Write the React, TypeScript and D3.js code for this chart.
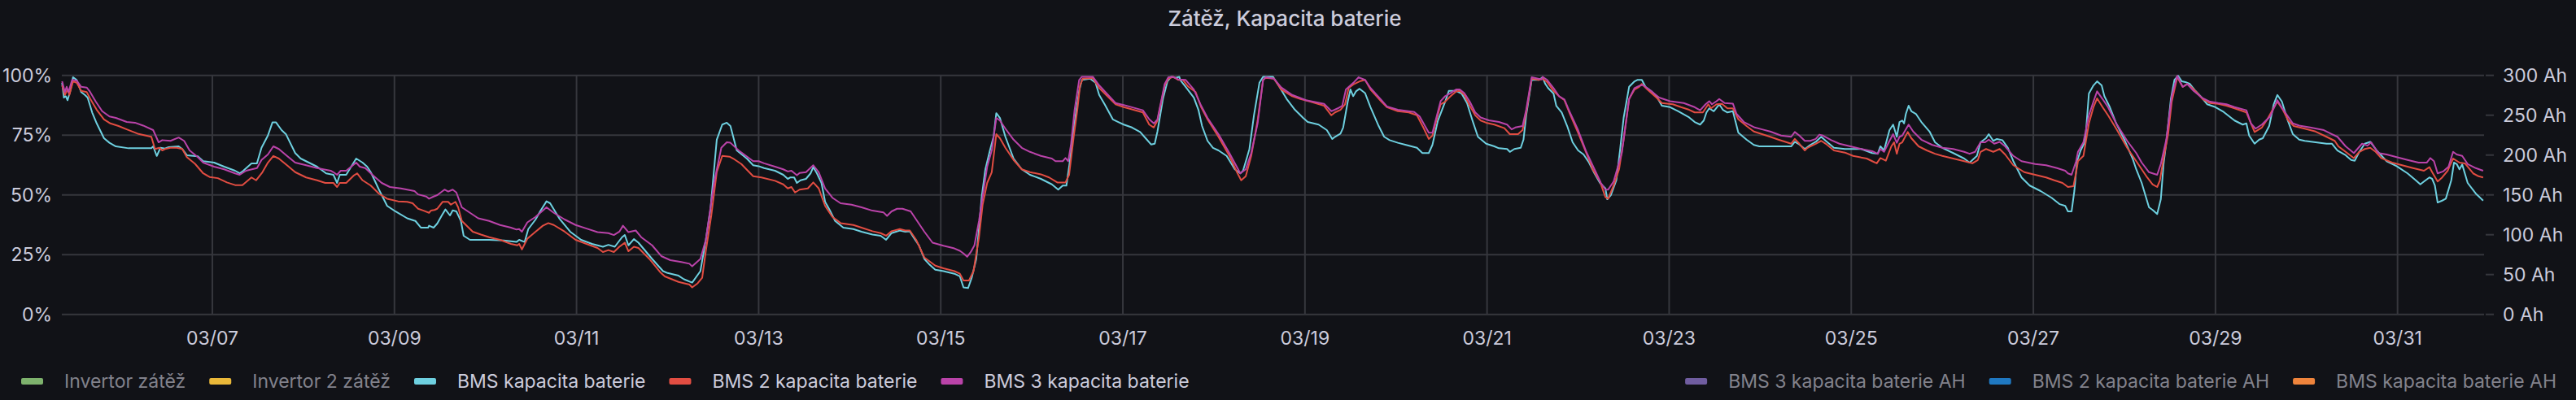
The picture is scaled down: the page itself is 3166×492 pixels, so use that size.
import React from "react";
import * as d3 from "d3";

const WIDTH = 3166;
const HEIGHT = 492;

// [day of March (fractional), capacity in %]
const bmsCapacity: [number, number][] = [
  [5.35, 96.9], [5.37, 90.7], [5.39, 91.3], [5.41, 89.6], [5.44, 93.5], [5.47, 99.2], [5.51, 98.1], [5.56, 93.0], [5.6, 91.8], [5.63, 90.7],
  [5.68, 84.5], [5.73, 79.9], [5.81, 73.7], [5.87, 71.8], [5.94, 70.3], [6.08, 69.5], [6.33, 69.5], [6.35, 70.3], [6.39, 66.3], [6.43, 69.7],
  [6.48, 69.4], [6.52, 70.0], [6.63, 70.3], [6.67, 69.2], [6.72, 66.6], [6.84, 66.1], [6.9, 64.1], [7.02, 63.5], [7.13, 61.8], [7.25, 60.1],
  [7.3, 59.0], [7.34, 60.1], [7.43, 63.2], [7.49, 63.2], [7.54, 69.7], [7.61, 74.8], [7.66, 80.3], [7.7, 80.3], [7.76, 77.1], [7.81, 75.3],
  [7.91, 67.5], [7.97, 65.2], [8.06, 63.5], [8.15, 61.8], [8.25, 59.0], [8.33, 58.4], [8.37, 55.0], [8.4, 58.4], [8.47, 58.4], [8.58, 65.2],
  [8.65, 63.5], [8.7, 61.8], [8.74, 59.5], [8.83, 52.2], [8.92, 45.4], [9.01, 43.1], [9.14, 40.2],
  [9.23, 39.1], [9.29, 36.3], [9.37, 36.3], [9.38, 37.1], [9.43, 36.3], [9.47, 38.0], [9.52, 41.4], [9.56, 43.9], [9.61, 41.4], [9.64, 43.5],
  [9.68, 43.1], [9.73, 39.1], [9.76, 32.9], [9.83, 31.2], [10.04, 31.2], [10.2, 30.9], [10.34, 30.3], [10.37, 31.2], [10.43, 30.3], [10.47, 35.7],
  [10.55, 39.7], [10.6, 43.1], [10.67, 47.3], [10.71, 46.5], [10.81, 40.2], [10.93, 34.6], [11.05, 31.2], [11.17, 29.5], [11.29, 28.3], [11.35, 29.1],
  [11.42, 28.3], [11.5, 32.3], [11.53, 33.2], [11.57, 28.9], [11.63, 31.5], [11.68, 30.0], [11.83, 23.2], [11.95, 18.1], [12.0, 17.3], [12.12, 16.2],
  [12.18, 14.7], [12.27, 13.3], [12.36, 18.1], [12.42, 31.2], [12.47, 43.7], [12.54, 73.1], [12.6, 79.4], [12.65, 80.2], [12.69, 78.8], [12.76, 68.6],
  [12.87, 65.2], [12.94, 62.4],
  [13.0, 62.0], [13.06, 61.2], [13.18, 60.1], [13.27, 58.4], [13.32, 56.7], [13.35, 57.3], [13.39, 57.3], [13.42, 55.0], [13.46, 56.1], [13.52, 56.7],
  [13.57, 59.0], [13.6, 61.6], [13.64, 59.0], [13.69, 55.0], [13.73, 47.1], [13.78, 43.7], [13.84, 39.1], [13.93, 36.3], [14.04, 35.7], [14.13, 34.6],
  [14.25, 33.4], [14.34, 32.9], [14.4, 31.2], [14.46, 34.0], [14.55, 35.1], [14.61, 34.6], [14.66, 34.8], [14.7, 32.3], [14.76, 28.9], [14.82, 23.2],
  [14.88, 20.7], [14.94, 18.7], [15.03, 18.1], [15.15, 17.0], [15.21, 15.9], [15.25, 11.3], [15.3, 11.0], [15.34, 15.3], [15.39, 23.2], [15.45, 49.3],
  [15.49, 60.7], [15.54, 68.6], [15.58, 74.3], [15.61, 84.2], [15.65, 82.2], [15.71, 74.3], [15.8, 65.2], [15.89, 60.7], [15.98, 58.4], [16.1, 56.7],
  [16.22, 54.4], [16.29, 52.2], [16.34, 53.9], [16.38, 53.9], [16.41, 61.8], [16.46, 77.7], [16.52, 93.5], [16.55, 98.1], [16.58, 98.3], [16.64, 98.6],
  [16.7, 96.9], [16.74, 91.8],
  [16.8, 87.9], [16.89, 81.6], [16.95, 80.5], [17.01, 79.4], [17.1, 78.2], [17.19, 76.3], [17.25, 73.7], [17.31, 71.1], [17.35, 71.4], [17.38, 76.5],
  [17.44, 90.1], [17.49, 97.5], [17.53, 99.4], [17.58, 99.0], [17.62, 99.4], [17.63, 98.1], [17.69, 95.2], [17.78, 90.7], [17.83, 85.6], [17.87, 78.8],
  [17.93, 72.6], [17.99, 69.7], [18.05, 68.6], [18.14, 66.3], [18.23, 60.7], [18.29, 59.0], [18.32, 60.1], [18.36, 65.2], [18.39, 69.2], [18.44, 83.3],
  [18.5, 96.9], [18.54, 99.4], [18.65, 99.4], [18.71, 95.8], [18.8, 90.1], [18.89, 85.6], [18.98, 82.2], [19.03, 80.5], [19.15, 79.4], [19.24, 77.1],
  [19.3, 73.4], [19.33, 74.3], [19.39, 75.6], [19.42, 78.2], [19.47, 89.0], [19.5, 94.1], [19.53, 91.3], [19.56, 93.3], [19.6, 94.4], [19.66, 92.6],
  [19.72, 86.7], [19.81, 78.8], [19.87, 74.3], [19.93, 72.9], [20.02, 71.8], [20.11, 70.9], [20.23, 69.7], [20.29, 67.5], [20.36, 67.5], [20.4, 70.9],
  [20.46, 81.1], [20.54, 89.0],
  [20.58, 93.5], [20.66, 93.5], [20.72, 92.4], [20.78, 88.4], [20.84, 81.1], [20.9, 74.3], [20.99, 71.4], [21.08, 70.3], [21.13, 69.5], [21.22, 69.2],
  [21.25, 68.0], [21.3, 69.2], [21.37, 69.7], [21.4, 73.1], [21.43, 83.3], [21.49, 98.1], [21.57, 98.1], [21.61, 99.2], [21.64, 96.4], [21.67, 94.7],
  [21.73, 92.4], [21.76, 87.3], [21.82, 84.5], [21.88, 78.8], [21.94, 72.0], [22.0, 68.6], [22.06, 66.9], [22.12, 63.5], [22.18, 59.0], [22.24, 55.0],
  [22.3, 52.7], [22.32, 48.2], [22.36, 49.9], [22.42, 56.1], [22.46, 68.6], [22.5, 82.2], [22.56, 95.2], [22.62, 97.5], [22.65, 98.1], [22.7, 98.1],
  [22.74, 95.2], [22.8, 93.5], [22.86, 91.3], [22.92, 87.3], [23.01, 86.7], [23.1, 85.0], [23.22, 82.4], [23.28, 80.5], [23.34, 79.4], [23.38, 81.1],
  [23.41, 84.5], [23.44, 86.2], [23.49, 85.0], [23.55, 87.9], [23.59, 85.6], [23.64, 84.5], [23.7, 85.0], [23.76, 76.0], [23.85, 73.1], [23.93, 70.9],
  [23.99, 70.3], [24.34, 70.3],
  [24.38, 72.2], [24.43, 71.1], [24.49, 69.2], [24.52, 70.0], [24.55, 70.9], [24.61, 72.2], [24.67, 74.3], [24.72, 72.6], [24.81, 69.7], [24.93, 69.2],
  [25.11, 69.2], [25.23, 67.5], [25.29, 67.2], [25.32, 70.3], [25.36, 68.6], [25.42, 77.1], [25.46, 79.4], [25.5, 74.3], [25.53, 80.5], [25.56, 81.1],
  [25.58, 79.9], [25.6, 83.9], [25.63, 87.3], [25.66, 85.0], [25.71, 83.9], [25.77, 80.5], [25.86, 76.5], [25.92, 72.0], [26.0, 69.7], [26.12, 67.5],
  [26.24, 65.2], [26.3, 63.5], [26.38, 66.3], [26.42, 72.0], [26.48, 73.7], [26.51, 75.4], [26.56, 72.6], [26.6, 73.4], [26.66, 72.9], [26.72, 69.7],
  [26.78, 64.1], [26.87, 57.3], [26.96, 53.9], [27.08, 51.6], [27.2, 48.8], [27.29, 46.1], [27.35, 45.4], [27.38, 43.1], [27.42, 43.1], [27.45, 51.6],
  [27.48, 64.1], [27.52, 68.6], [27.57, 72.6], [27.61, 92.4], [27.66, 95.8], [27.7, 97.5], [27.75, 95.8], [27.78, 91.3], [27.84, 86.7], [27.91, 79.9],
  [28.0, 73.1], [28.09, 65.2], [28.13, 60.7],
  [28.19, 55.0], [28.27, 44.8], [28.31, 43.7], [28.36, 42.0], [28.4, 48.2], [28.43, 62.9], [28.46, 72.0], [28.51, 90.1], [28.55, 98.1], [28.59, 99.8],
  [28.63, 97.5], [28.67, 97.2], [28.72, 96.4], [28.78, 93.5], [28.85, 90.7], [28.91, 87.9], [29.0, 86.7], [29.09, 84.7], [29.21, 81.1], [29.3, 79.4],
  [29.34, 79.9], [29.37, 74.8], [29.43, 71.4], [29.48, 73.1], [29.52, 73.7], [29.59, 78.8], [29.64, 87.9], [29.68, 91.8], [29.73, 89.0], [29.79, 81.6],
  [29.85, 75.4], [29.92, 73.1], [29.98, 72.6], [30.1, 72.0], [30.22, 71.4], [30.28, 71.4], [30.34, 68.6], [30.43, 66.6], [30.49, 64.6], [30.53, 64.3],
  [30.58, 68.0], [30.64, 71.4], [30.7, 72.2], [30.77, 68.6], [30.88, 64.1], [30.99, 62.0], [31.11, 59.0], [31.2, 56.1], [31.25, 54.4], [31.29, 55.6],
  [31.35, 57.3], [31.38, 56.7], [31.41, 53.9], [31.44, 46.8], [31.49, 47.6], [31.53, 48.4], [31.59, 56.1], [31.62, 63.5], [31.65, 62.9], [31.68, 60.7],
  [31.71, 62.7], [31.77, 55.0], [31.86, 50.5], [31.94, 47.6],
];

const bms2Capacity: [number, number][] = [
  [5.35, 95.8], [5.38, 91.8], [5.41, 94.1], [5.43, 91.8], [5.47, 97.5], [5.51, 96.9], [5.56, 93.5], [5.62, 93.0], [5.66, 90.1], [5.73, 85.6],
  [5.81, 81.6], [5.88, 79.9], [5.97, 78.8], [6.06, 77.4], [6.18, 75.6], [6.27, 74.8], [6.33, 74.3], [6.37, 69.2], [6.42, 69.7], [6.45, 68.6],
  [6.48, 69.2], [6.54, 69.7], [6.61, 69.7], [6.67, 69.2], [6.72, 65.8], [6.81, 63.0], [6.9, 59.0], [6.97, 57.5], [7.06, 57.0], [7.16, 55.2],
  [7.25, 54.1], [7.33, 54.1], [7.43, 57.3], [7.48, 56.1], [7.55, 59.5], [7.61, 63.5], [7.67, 66.3], [7.73, 65.2], [7.82, 62.4], [7.91, 59.5],
  [8.03, 57.3], [8.15, 56.1], [8.24, 55.0], [8.33, 55.0], [8.37, 53.3], [8.4, 55.0], [8.47, 55.0], [8.55, 58.0], [8.59, 59.0], [8.65, 56.1],
  [8.74, 53.9], [8.83, 50.5], [8.92, 48.4], [9.04, 47.3], [9.14, 47.1],
  [9.2, 46.5], [9.26, 44.2], [9.32, 43.4], [9.38, 42.5], [9.4, 43.4], [9.44, 43.7], [9.47, 44.2], [9.53, 47.1], [9.59, 47.1], [9.62, 45.9],
  [9.67, 47.1], [9.7, 44.8], [9.74, 39.1], [9.86, 34.6], [9.95, 33.4], [10.04, 32.3], [10.16, 31.2], [10.28, 29.5], [10.35, 28.9], [10.37, 29.5],
  [10.4, 27.2], [10.46, 31.7], [10.55, 34.6], [10.63, 37.1], [10.69, 38.2], [10.75, 37.4], [10.87, 34.6], [10.99, 31.2], [11.11, 29.5], [11.23, 27.8],
  [11.29, 26.1], [11.35, 26.9], [11.41, 26.1], [11.47, 28.3], [11.53, 30.0], [11.57, 26.4], [11.63, 28.3], [11.68, 27.8], [11.8, 23.2], [11.92, 17.6],
  [11.97, 15.9], [12.12, 13.6], [12.24, 12.5], [12.27, 11.3], [12.33, 13.0], [12.38, 15.3], [12.42, 26.6], [12.48, 41.4], [12.54, 59.5], [12.6, 66.3],
  [12.68, 66.0], [12.72, 65.2], [12.81, 62.9], [12.94, 57.8],
  [13.03, 57.3], [13.18, 55.9], [13.27, 54.4], [13.32, 52.7], [13.36, 53.3], [13.4, 51.0], [13.45, 52.2], [13.54, 52.7], [13.6, 55.2], [13.66, 52.7],
  [13.73, 45.4], [13.81, 40.8], [13.9, 38.2], [14.04, 37.4], [14.13, 36.3], [14.25, 34.8], [14.34, 34.0], [14.4, 32.9], [14.46, 34.8], [14.55, 35.7],
  [14.61, 35.1], [14.66, 35.1], [14.73, 31.2], [14.82, 23.8], [14.94, 20.4], [15.03, 19.3], [15.15, 18.1], [15.21, 17.0], [15.25, 14.2], [15.31, 14.2],
  [15.36, 18.1], [15.42, 32.3], [15.46, 45.9], [15.51, 55.0], [15.56, 59.5], [15.61, 75.4], [15.65, 73.7], [15.71, 69.7], [15.8, 64.6], [15.89, 60.7],
  [15.98, 59.5], [16.1, 58.6], [16.19, 57.3], [16.28, 55.2], [16.37, 55.2], [16.41, 58.4], [16.46, 74.3], [16.5, 85.6], [16.53, 95.8], [16.56, 98.6],
  [16.67, 98.9], [16.74, 94.7],
  [16.83, 91.3], [16.92, 87.9], [17.01, 86.7], [17.1, 85.8], [17.22, 84.5], [17.29, 79.4], [17.34, 78.2], [17.38, 81.1], [17.46, 95.8], [17.5, 98.6],
  [17.55, 99.4], [17.61, 98.1], [17.66, 98.1], [17.72, 95.2], [17.8, 93.0], [17.86, 86.7], [17.93, 81.6], [18.05, 74.3], [18.17, 66.3], [18.26, 59.0],
  [18.3, 56.1], [18.35, 57.8], [18.41, 66.3], [18.48, 81.1], [18.54, 98.1], [18.57, 99.0], [18.66, 98.6], [18.74, 94.1], [18.86, 91.3], [18.95, 90.1],
  [19.06, 89.0], [19.21, 87.3], [19.29, 83.3], [19.33, 84.5], [19.39, 85.6], [19.44, 87.9], [19.48, 94.7], [19.54, 96.4], [19.6, 97.5], [19.66, 98.1],
  [19.72, 94.1], [19.84, 89.0], [19.9, 86.7], [20.02, 85.0], [20.14, 84.5], [20.23, 83.3], [20.3, 78.2], [20.36, 73.4], [20.4, 74.8], [20.49, 87.9],
  [20.54, 89.0],
  [20.6, 91.3], [20.66, 93.3], [20.7, 93.5], [20.75, 91.8], [20.81, 87.3], [20.87, 83.3], [20.93, 81.1], [20.99, 80.2], [21.08, 79.4], [21.19, 77.9],
  [21.25, 75.4], [21.34, 75.4], [21.39, 77.1], [21.43, 84.5], [21.49, 98.6], [21.57, 98.1], [21.61, 98.6], [21.66, 97.2], [21.73, 93.5], [21.79, 91.3],
  [21.85, 89.6], [21.91, 83.9], [22.0, 76.0], [22.09, 67.5], [22.16, 60.7], [22.24, 55.6], [22.3, 49.1], [22.33, 48.4], [22.39, 53.9], [22.45, 60.7],
  [22.5, 73.1], [22.56, 90.1], [22.62, 94.1], [22.67, 95.2], [22.7, 96.4], [22.76, 94.1], [22.86, 90.7], [22.92, 88.4], [23.04, 87.9], [23.13, 86.7],
  [23.22, 85.6], [23.28, 84.5], [23.37, 84.5], [23.43, 87.9], [23.46, 86.2], [23.52, 87.9], [23.58, 88.1], [23.64, 86.2], [23.7, 86.2], [23.76, 81.6],
  [23.85, 78.8], [23.93, 76.5], [24.02, 75.4], [24.11, 74.3], [24.2, 73.1], [24.34, 71.4],
  [24.38, 73.4], [24.43, 71.4], [24.49, 68.6], [24.52, 69.7], [24.55, 70.3], [24.61, 71.4], [24.67, 72.6], [24.72, 71.4], [24.81, 68.6], [24.93, 67.7],
  [25.02, 66.3], [25.17, 65.2], [25.23, 64.1], [25.28, 63.2], [25.32, 65.4], [25.38, 64.3], [25.44, 70.3], [25.47, 72.0], [25.5, 67.2], [25.53, 71.4],
  [25.56, 72.0], [25.62, 76.3], [25.66, 73.7], [25.74, 70.3], [25.83, 68.6], [25.92, 67.2], [26.0, 66.3], [26.12, 65.2], [26.24, 64.1], [26.33, 63.2],
  [26.39, 64.6], [26.42, 68.0], [26.48, 69.2], [26.56, 68.0], [26.63, 69.2], [26.69, 66.9], [26.78, 62.4], [26.9, 59.5], [27.02, 58.4], [27.14, 57.3],
  [27.23, 56.1], [27.32, 55.0], [27.38, 53.3], [27.44, 53.6], [27.47, 59.5], [27.49, 64.1], [27.55, 66.3], [27.61, 79.9], [27.66, 86.7], [27.7, 90.4],
  [27.76, 86.7], [27.82, 83.3], [27.91, 77.7], [28.03, 69.7], [28.13, 64.1],
  [28.19, 60.7], [28.25, 57.3], [28.31, 54.4], [28.36, 53.3], [28.39, 56.1], [28.43, 65.2], [28.48, 75.4], [28.52, 89.0], [28.58, 99.2], [28.64, 95.2],
  [28.69, 96.4], [28.73, 95.2], [28.79, 93.0], [28.86, 90.1], [28.94, 88.4], [29.03, 88.1], [29.12, 87.3], [29.21, 86.2], [29.34, 84.5], [29.39, 79.9],
  [29.43, 76.3], [29.51, 78.2], [29.57, 81.6], [29.63, 85.8], [29.68, 89.0], [29.74, 85.6], [29.8, 81.1], [29.86, 78.8], [29.98, 77.7], [30.1, 76.5],
  [30.22, 74.3], [30.31, 72.6], [30.35, 70.3], [30.43, 68.0], [30.52, 65.4], [30.58, 68.0], [30.64, 69.2], [30.7, 69.7], [30.76, 68.0], [30.82, 65.4],
  [30.94, 63.5], [31.05, 62.4], [31.17, 61.2], [31.29, 60.1], [31.35, 61.6], [31.38, 59.5], [31.44, 55.6], [31.49, 57.3], [31.55, 60.1], [31.61, 65.2],
  [31.68, 63.5], [31.74, 63.2], [31.83, 59.0], [31.89, 57.8], [31.94, 57.3],
];

const bms3Capacity: [number, number][] = [
  [5.35, 97.5], [5.38, 93.0], [5.4, 95.2], [5.42, 93.0], [5.46, 98.1], [5.51, 97.8], [5.56, 95.2], [5.62, 94.9], [5.65, 93.5], [5.72, 89.0],
  [5.79, 85.0], [5.87, 82.8], [5.94, 82.2], [6.06, 80.5], [6.15, 80.2], [6.24, 79.0], [6.35, 77.1], [6.41, 72.0], [6.45, 72.9], [6.54, 72.6],
  [6.63, 74.0], [6.69, 72.6], [6.75, 68.6], [6.84, 65.8], [6.9, 63.5], [7.02, 61.8], [7.13, 60.7], [7.25, 59.0], [7.3, 58.4], [7.37, 60.1],
  [7.49, 61.2], [7.54, 64.6], [7.61, 66.9], [7.67, 70.3], [7.73, 69.2], [7.82, 66.3], [7.91, 63.5], [8.03, 62.4], [8.15, 61.2], [8.3, 60.1],
  [8.33, 59.5], [8.37, 58.4], [8.41, 60.1], [8.47, 60.1], [8.58, 63.5], [8.62, 61.8], [8.68, 61.2], [8.77, 58.0], [8.86, 55.0], [8.95, 53.3],
  [9.07, 52.7], [9.14, 52.2],
  [9.22, 51.6], [9.26, 50.2], [9.35, 49.3], [9.38, 48.4], [9.43, 49.3], [9.47, 49.9], [9.55, 52.2], [9.59, 51.4], [9.64, 52.2], [9.68, 51.0],
  [9.74, 44.8], [9.83, 42.5], [9.92, 40.2], [10.04, 39.1], [10.16, 37.4], [10.28, 36.3], [10.34, 35.5], [10.37, 35.7], [10.4, 34.6], [10.46, 38.5],
  [10.55, 40.8], [10.67, 44.8], [10.75, 42.5], [10.87, 39.7], [10.99, 37.4], [11.11, 35.9], [11.23, 34.4], [11.35, 34.0], [11.41, 33.2], [11.47, 34.6],
  [11.51, 37.1], [11.57, 34.4], [11.65, 35.1], [11.71, 32.3], [11.83, 28.9], [11.93, 24.4], [12.03, 22.7], [12.15, 21.9], [12.24, 21.2], [12.27, 20.1],
  [12.36, 23.2], [12.42, 31.2], [12.51, 55.0], [12.59, 69.7], [12.65, 72.0], [12.69, 71.8], [12.78, 68.6], [12.94, 64.1],
  [13.0, 64.1], [13.06, 63.2], [13.18, 61.8], [13.27, 60.7], [13.32, 59.8], [13.36, 60.1], [13.42, 58.2], [13.45, 59.2], [13.52, 59.5], [13.6, 62.4],
  [13.66, 59.5], [13.73, 52.7], [13.81, 48.8], [13.9, 46.5], [14.02, 45.9], [14.13, 44.8], [14.25, 43.4], [14.37, 42.7], [14.41, 41.2], [14.46, 43.1],
  [14.52, 44.2], [14.58, 44.2], [14.67, 43.1], [14.73, 39.7], [14.82, 34.6], [14.91, 30.0], [15.03, 28.7], [15.15, 27.6], [15.21, 26.6], [15.25, 25.5],
  [15.29, 24.1], [15.33, 26.1], [15.37, 28.9], [15.42, 39.1], [15.46, 49.3], [15.51, 61.8], [15.56, 68.6], [15.61, 82.2], [15.65, 81.1], [15.71, 77.7],
  [15.8, 73.1], [15.89, 69.7], [15.98, 68.0], [16.1, 66.3], [16.22, 65.2], [16.26, 64.1], [16.34, 64.1], [16.37, 65.4], [16.4, 64.1], [16.43, 70.9],
  [16.47, 85.6], [16.52, 98.1], [16.55, 99.4], [16.67, 99.4], [16.74, 95.8],
  [16.92, 88.4], [17.01, 87.6], [17.22, 85.4], [17.29, 81.6], [17.34, 79.9], [17.38, 81.6], [17.46, 96.4], [17.5, 99.2], [17.55, 99.4], [17.61, 98.3],
  [17.69, 98.1], [17.78, 94.1], [17.86, 87.3], [17.93, 82.2], [18.05, 75.4], [18.17, 67.5], [18.29, 59.0], [18.35, 60.7], [18.41, 67.5], [18.48, 79.9],
  [18.54, 98.1], [18.57, 99.2], [18.66, 98.6], [18.74, 94.9], [18.86, 91.8], [19.01, 89.6], [19.21, 88.1], [19.29, 85.0], [19.36, 86.2], [19.41, 87.3],
  [19.45, 94.1], [19.54, 97.2], [19.59, 99.2], [19.66, 98.1], [19.72, 94.7], [19.84, 89.6], [19.9, 87.0], [20.02, 85.6], [20.2, 84.7], [20.26, 82.8],
  [20.36, 76.0], [20.4, 76.0], [20.49, 89.2], [20.54, 91.3],
  [20.6, 92.6], [20.66, 94.1], [20.7, 94.1], [20.75, 92.6], [20.81, 89.0], [20.87, 84.5], [20.93, 82.4], [21.02, 81.2], [21.13, 80.5], [21.22, 79.4],
  [21.27, 77.4], [21.31, 78.2], [21.39, 78.8], [21.43, 85.6], [21.49, 99.2], [21.6, 98.3], [21.61, 99.4], [21.66, 98.1], [21.73, 94.7], [21.79, 91.3],
  [21.85, 89.9], [21.91, 84.5], [22.0, 77.1], [22.09, 68.0], [22.18, 60.7], [22.25, 55.0], [22.3, 52.2], [22.33, 52.2], [22.39, 55.6], [22.48, 67.5],
  [22.56, 90.1], [22.62, 94.7], [22.67, 95.6], [22.71, 96.0], [22.8, 93.5], [22.89, 90.7], [23.01, 89.2], [23.16, 88.4], [23.28, 86.7], [23.34, 85.4],
  [23.4, 87.9], [23.44, 89.2], [23.47, 87.9], [23.52, 89.2], [23.55, 90.1], [23.61, 88.4], [23.7, 88.2], [23.74, 83.9], [23.82, 80.5], [23.94, 78.2],
  [24.02, 77.4], [24.11, 76.5], [24.23, 74.8], [24.34, 74.3],
  [24.38, 76.3], [24.43, 74.8], [24.49, 72.6], [24.55, 72.6], [24.61, 73.4], [24.65, 75.2], [24.69, 74.8], [24.78, 72.9], [24.87, 71.4], [24.99, 70.3],
  [25.11, 69.2], [25.23, 68.3], [25.29, 67.2], [25.32, 69.2], [25.36, 68.0], [25.42, 72.6], [25.46, 75.4], [25.5, 71.8], [25.53, 74.3], [25.56, 74.8],
  [25.63, 79.4], [25.68, 76.5], [25.77, 73.1], [25.89, 70.9], [26.0, 69.7], [26.12, 69.2], [26.24, 68.0], [26.3, 67.2], [26.36, 68.0], [26.42, 72.0],
  [26.47, 72.0], [26.51, 73.1], [26.57, 71.4], [26.63, 72.2], [26.69, 70.3], [26.78, 66.3], [26.87, 64.1], [27.02, 62.9], [27.14, 62.4], [27.26, 61.2],
  [27.35, 60.1], [27.38, 59.0], [27.42, 58.4], [27.47, 64.1], [27.49, 68.0], [27.55, 72.0], [27.61, 83.3], [27.66, 89.0], [27.7, 93.3], [27.76, 90.1],
  [27.82, 86.7], [27.91, 79.9], [28.03, 72.6], [28.13, 67.5],
  [28.19, 63.5], [28.27, 59.5], [28.31, 59.0], [28.36, 58.4], [28.4, 62.9], [28.46, 73.1], [28.52, 91.3], [28.58, 99.8], [28.64, 95.2], [28.69, 96.4],
  [28.76, 93.5], [28.85, 90.7], [28.94, 89.0], [29.03, 88.4], [29.12, 87.9], [29.21, 86.7], [29.34, 85.4], [29.39, 79.9], [29.44, 77.7], [29.51, 79.4],
  [29.6, 82.8], [29.68, 89.6], [29.74, 85.8], [29.85, 79.9], [29.92, 79.0], [30.04, 78.2], [30.19, 77.1], [30.28, 75.4], [30.34, 74.3], [30.43, 70.3],
  [30.52, 67.5], [30.61, 71.4], [30.67, 70.6], [30.71, 72.0], [30.79, 67.5], [30.88, 66.9], [30.99, 65.8], [31.11, 64.6], [31.23, 63.5], [31.32, 63.5],
  [31.36, 65.4], [31.4, 64.1], [31.44, 59.0], [31.5, 59.8], [31.56, 61.8], [31.61, 68.0], [31.65, 66.9], [31.71, 66.3], [31.77, 62.9], [31.86, 61.2],
  [31.94, 60.1],
];

const percentTicks = [0, 25, 50, 75, 100];
const ahTicks = [0, 50, 100, 150, 200, 250, 300];

const legendLeftNames = ["Invertor zátěž", "Invertor 2 zátěž", "BMS kapacita baterie", "BMS 2 kapacita baterie", "BMS 3 kapacita baterie"];
const legendLeftColors = ["#7EB26D", "#EAB839", "#6ED0E0", "#E24D42", "#BA43A9"];
const legendLeftHidden = [true, true, false, false, false];
const legendRightNames = ["BMS 3 kapacita baterie AH", "BMS 2 kapacita baterie AH", "BMS kapacita baterie AH"];
const legendRightColors = ["#705DA0", "#1F78C1", "#EF843C"];

const FONT = "Inter, 'Noto Sans', sans-serif";
const TEXT = "#ccccdc";
const DIM = "#82828c";
const GRID = "#36373d";

const toDate = (d: number) => new Date(Date.UTC(2024, 2, 1) + (d - 1) * 86400000);

const ctx = document.createElement("canvas").getContext("2d")!;
const measure = (s: string, size: number) => {
  ctx.font = `${size}px Inter`;
  return ctx.measureText(s).width;
};

const margin = { left: 76, right: 3053, top: 92.7, bottom: 386.7 };

export default function App() {
  const x = d3.scaleUtc().domain([toDate(5.347), toDate(31.95)]).range([margin.left, margin.right]);
  const y = d3.scaleLinear().domain([0, 100]).range([margin.bottom, margin.top]);
  const yAh = d3.scaleLinear().domain([0, 300]).range([margin.bottom, margin.top]);

  const line = d3
    .line<[number, number]>()
    .x((d) => x(toDate(d[0])))
    .y((d) => y(d[1]));

  const xTicks = x.ticks(d3.utcDay.every(2)!).filter((t) => t.getUTCDate() % 2 === 1);
  const fmt = d3.utcFormat("%m/%d");

  const series = [
    { data: bmsCapacity, color: legendLeftColors[2] },
    { data: bms2Capacity, color: legendLeftColors[3] },
    { data: bms3Capacity, color: legendLeftColors[4] },
  ];

  // legend layout
  const legendSize = 23;
  const swW = 27;
  const swGap = 26;
  const itemGap = 29;
  let cx = 26;
  const leftItems = legendLeftNames.map((name, i) => {
    const item = { name, color: legendLeftColors[i], hidden: legendLeftHidden[i], x: cx };
    cx += swW + swGap + measure(name, legendSize) + itemGap;
    return item;
  });
  const rightWidths = legendRightNames.map((n) => swW + swGap + measure(n, legendSize));
  let rx = 3142 - d3.sum(rightWidths) - itemGap * (rightWidths.length - 1);
  const rightItems = legendRightNames.map((name, i) => {
    const item = { name, color: legendRightColors[i], hidden: true, x: rx };
    rx += rightWidths[i] + itemGap;
    return item;
  });

  return (
    <div style={{ position: "fixed", left: 0, top: 0, width: WIDTH, height: HEIGHT, background: "#111217" }}>
      <svg width={WIDTH} height={HEIGHT} style={{ display: "block", fontFamily: FONT }}>
        <text x={WIDTH / 2 - 4} y={32} textAnchor="middle" fill={TEXT} fontSize={26} fontWeight={500}>
          Zátěž, Kapacita baterie
        </text>

        {percentTicks.map((t) => (
          <g key={`p${t}`}>
            <line x1={margin.left} x2={margin.right} y1={y(t)} y2={y(t)} stroke={GRID} strokeWidth={2} />
            <text x={64} y={y(t)} dy="0.36em" textAnchor="end" fill={TEXT} fontSize={23}>
              {t}%
            </text>
          </g>
        ))}

        {xTicks.map((t) => (
          <g key={t.toISOString()}>
            <line x1={x(t)} x2={x(t)} y1={margin.top} y2={margin.bottom} stroke={GRID} strokeWidth={2} />
            <text x={x(t)} y={424} textAnchor="middle" fill={TEXT} fontSize={23}>
              {fmt(t)}
            </text>
          </g>
        ))}

        {ahTicks.map((t) => (
          <g key={`a${t}`}>
            <line x1={margin.right + 2} x2={margin.right + 12} y1={yAh(t)} y2={yAh(t)} stroke={GRID} strokeWidth={2} />
            <text x={3076} y={yAh(t)} dy="0.36em" fill={TEXT} fontSize={23}>
              {t} Ah
            </text>
          </g>
        ))}

        {series.map((s, i) => (
          <path key={i} d={line(s.data) ?? ""} fill="none" stroke={s.color} strokeWidth={2} strokeLinejoin="round" />
        ))}

        {[...leftItems, ...rightItems].map((it) => (
          <g key={it.name}>
            <rect x={it.x} y={465} width={swW} height={8} rx={2} fill={it.color} />
            <text x={it.x + swW + swGap} y={477} fill={it.hidden ? DIM : TEXT} fontSize={legendSize}>
              {it.name}
            </text>
          </g>
        ))}
      </svg>
    </div>
  );
}
